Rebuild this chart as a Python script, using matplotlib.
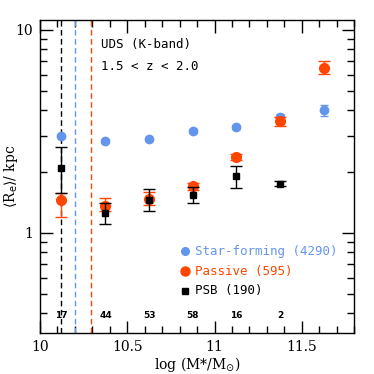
import numpy as np
import matplotlib
matplotlib.use("Agg")
import matplotlib.pyplot as plt
from matplotlib.ticker import FixedLocator, NullFormatter

# bins in log stellar mass
x_low = 10.12
x_bins = [10.375, 10.625, 10.875, 11.125, 11.375, 11.625]

sf_x = [x_low] + x_bins
sf_y = [3.0, 2.82, 2.89, 3.17, 3.33, 3.73, 4.0]
sf_err = [0.06, 0.05, 0.05, 0.06, 0.08, 0.12, 0.25]

pa_x = [x_low] + x_bins
pa_y = [1.45, 1.35, 1.46, 1.69, 2.35, 3.53, 6.5]
pa_lo = [0.26, 0.08, 0.10, 0.06, 0.08, 0.17, 0.45]
pa_hi = [0.12, 0.13, 0.12, 0.06, 0.08, 0.17, 0.48]

psb_x = [x_low] + x_bins[:5]
psb_y = [2.09, 1.25, 1.45, 1.53, 1.89, 1.74]
psb_lo = [0.53, 0.15, 0.18, 0.13, 0.23, 0.05]
psb_hi = [0.54, 0.15, 0.19, 0.15, 0.25, 0.05]

counts = ["17", "44", "53", "58", "16", "2"]
count_x = [x_low] + x_bins[:5]

lim_psb, lim_sf, lim_pa = 10.12, 10.2, 10.29

blue = "#6495ED"
red = "#FF4500"
serif = "DejaVu Serif"
mono = "DejaVu Sans Mono"

fig = plt.figure(figsize=(3.74, 3.74), dpi=100)
ax = fig.add_axes([0.107, 0.11, 0.84, 0.837])

ax.axvline(lim_psb, color="black", ls=(0, (4, 2.5)), lw=1)
ax.axvline(lim_sf, color=blue, ls=(0, (4, 2.5)), lw=1)
ax.axvline(lim_pa, color=red, ls=(0, (4, 2.5)), lw=1)

ax.errorbar(sf_x, sf_y, yerr=sf_err, fmt="o", color=blue, ms=6,
            capsize=3, elinewidth=1, zorder=3)
ax.errorbar(pa_x, pa_y, yerr=[pa_lo, pa_hi], fmt="o", color=red, ms=7,
            capsize=4, elinewidth=1, zorder=4)
ax.errorbar(psb_x, psb_y, yerr=[psb_lo, psb_hi], fmt="s", color="black",
            ms=5, capsize=4, elinewidth=1, zorder=5)

for cx, c in zip(count_x, counts):
    ax.text(cx, 0.39, c, ha="center", va="center", fontsize=6.5,
            fontweight="bold", family="DejaVu Sans")

ax.text(10.35, 8.1, "UDS (K-band)", fontsize=9, family=mono)
ax.text(10.35, 6.35, "1.5 < z < 2.0", fontsize=9, family=mono)

# legend drawn by hand
ax.plot([10.83], [0.81], "o", color=blue, ms=5.5)
ax.text(10.89, 0.81, "Star-forming (4290)", color=blue, fontsize=9,
        family=mono, va="center")
ax.plot([10.83], [0.645], "o", color=red, ms=6.5)
ax.text(10.89, 0.645, "Passive (595)", color=red, fontsize=9,
        family=mono, va="center")
ax.plot([10.83], [0.515], "s", color="black", ms=4.5)
ax.text(10.89, 0.515, "PSB (190)", color="black", fontsize=9,
        family=mono, va="center")

ax.set_yscale("log")
ax.set_xlim(10, 11.8)
ax.set_ylim(0.32, 11.2)
ax.set_xticks([10, 10.5, 11, 11.5])
ax.set_xticklabels(["10", "10.5", "11", "11.5"], family=serif, fontsize=10)
ax.set_xticks(np.arange(10.1, 11.8, 0.1), minor=True)
ax.yaxis.set_major_locator(FixedLocator([1, 10]))
ax.set_yticklabels(["1", "10"], family=serif, fontsize=10)
ax.yaxis.set_minor_locator(FixedLocator([0.4, 0.5, 0.6, 0.7, 0.8, 0.9,
                                         2, 3, 4, 5, 6, 7, 8, 9]))
ax.yaxis.set_minor_formatter(NullFormatter())
ax.tick_params(which="both", direction="in", top=True, right=True, width=1)
ax.tick_params(which="major", length=9, pad=5)
ax.tick_params(which="minor", length=5)
for s in ax.spines.values():
    s.set_linewidth(1)

ax.set_xlabel(r"log (M*/M$_{\odot}$)", family=serif, fontsize=10, labelpad=1)
ax.set_ylabel(r"$\langle$R$_{\rm e}\rangle$/ kpc", family=serif, fontsize=10)
ax.yaxis.set_label_coords(-0.064, 0.5)

fig.savefig("out.png", dpi=100)
